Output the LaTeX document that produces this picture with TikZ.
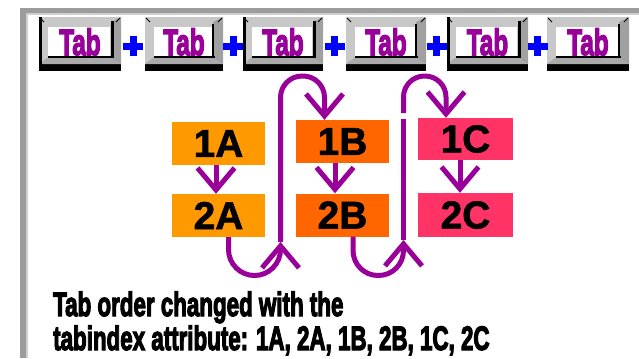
\documentclass[tikz,border=0pt]{standalone}
\usepackage{fontspec}
\setmainfont{Liberation Sans}
\newfontfamily\heavy{Liberation Sans Bold}[FakeBold=4]
\newfontfamily\boxfont{Liberation Sans Bold}[FakeBold=1.5]
\usetikzlibrary{arrows.meta}
\definecolor{purp}{HTML}{990099}
\definecolor{framegray}{HTML}{9C9C9C}
\definecolor{framelight}{HTML}{D0D0D0}
\definecolor{keylight}{HTML}{C8C8C8}
\definecolor{keydark}{HTML}{A0A0A0}
\definecolor{keymid}{HTML}{AAAAAA}
\definecolor{plusblue}{HTML}{0000FF}
\definecolor{colA}{HTML}{FF9900}
\definecolor{colB}{HTML}{FF6600}
\definecolor{colC}{HTML}{FF3366}
\tikzset{
  bx/.style={inner sep=0pt, minimum width=93bp, minimum height=43bp,
    font=\boxfont\fontsize{39}{39}\selectfont, text=black},
  tabtxt/.style={inner sep=0pt, text=purp, font=\heavy\fontsize{37}{37}\selectfont},
  flow/.style={purp, line width=5bp, -{Straight Barb[length=22bp, width=37bp]}},
  plainline/.style={purp, line width=5bp},
  plussign/.style={plusblue, line width=7bp},
  caption/.style={inner sep=0pt, anchor=base west, text=black,
    font=\heavy\fontsize{34}{34}\selectfont}
}
% key body: #1 name, #2 left, #3 right, #4 1 = pressed look
\newcommand\drawtabkey[4]{%
  \fill[keylight] (#2,17) rectangle (#3,65);
  \fill[black] (#2,64) rectangle (#3,71);
  \fill[keydark] (#3-10,22) -- (#3,17) -- (#3,64) -- (#3-10,58) -- cycle;
  \fill[keymid] (#2+8,58) -- (#3-10,58) -- (#3,64) -- (#2,64) -- cycle;
  \fill[white] (#2+9,27) rectangle (#3-11,56);
  \fill[black] (#2+9,56) rectangle (#3-8,58);
  \ifnum#4=1
    \fill[black] (#2,17) rectangle (#2+3,71);
    \fill[black] (#3-10,21) rectangle (#3-7,58);
  \else
    \fill[black] (#3-11,24) rectangle (#3-9,58);
  \fi
  \draw[black, line width=0.8bp] (#2+1,18) -- (#2+5,22) (#3-1,18) -- (#3-5,22);
  \node[tabtxt] (#1) at ({(#2+#3)/2},42) {\scalebox{0.66}[1]{Tab}};
}
\begin{document}
\begin{tikzpicture}[x=1bp,y=-1bp]
\useasboundingbox (0,0) rectangle (639,358);
\fill[white] (0,0) rectangle (639,358);
% frame
\fill[framegray] (20,8) rectangle (639,13);
\fill[framegray] (20,8) rectangle (26,358);
\fill[framelight] (26,13) rectangle (28,358);
\fill[framelight] (26,13) rectangle (639,14.5);
% tab keys
\drawtabkey{k1}{39}{121}{1}
\drawtabkey{k2}{145}{223}{0}
\drawtabkey{k3}{243}{323}{1}
\drawtabkey{k4}{346}{426}{0}
\drawtabkey{k5}{447}{528}{1}
\drawtabkey{k6}{547}{629}{0}
% plus signs
\foreach \px in {133,233,334.5,436.5,537.5}{
  \draw[plussign] (\px-10,46) -- (\px+10,46) (\px,36) -- (\px,56);
}
% boxes
\node[bx, fill=colA] (a1) at (218.5,143.5) {1A};
\node[bx, fill=colA] (a2) at (218.5,215.5) {2A};
\node[bx, fill=colB] (b1) at (342.5,141.5) {1B};
\node[bx, fill=colB] (b2) at (342.5,215) {2B};
\node[bx, fill=colC, minimum width=95bp, minimum height=42bp] (c1) at (465.5,139) {1C};
\node[bx, fill=colC, minimum width=95bp, minimum height=44bp] (c2) at (465.5,215) {2C};
% short arrows
\draw[flow] ([xshift=-2.5bp]a1.south) -- ([xshift=-2.5bp]a2.north);
\draw[flow] ([xshift=-7.5bp]b1.south) -- ([xshift=-7.5bp]b2.north);
\draw[flow] ([xshift=-5.5bp]c1.south) -- ([xshift=-5.5bp]c2.north);
% loop 1
\coordinate (t1) at (280.5,242);
\draw[flow, rounded corners=26bp] ([xshift=10bp]a2.south) |- (280.5,275.5) -- (t1);
\draw[flow, rounded corners=21.5bp] (t1) -- (280.5,76) -- (324.5,76) -- (324.5,0 |- b1.north);
% loop 2
\coordinate (t2) at (403.5,240);
\coordinate (g1) at (403.5,118.5);
\coordinate (g2) at (403.5,113);
\draw[flow, rounded corners=25bp] ([xshift=10.5bp]b2.south) |- (403.5,275.5) -- (t2);
\draw[plainline] (t2) -- (g1);
\draw[flow, rounded corners=21bp] (g2) -- (403.5,76) -- (446,76) -- (446,0 |- c1.north);
% caption
\node[caption] (cap1) at (53,316) {\scalebox{0.66}[1]{Tab order changed with the}};
\node[caption] (cap2) at (53,350) {\scalebox{0.66}[1]{tabindex attribute:\hspace{0.35em}1A, 2A, 1B, 2B, 1C, 2C}};
\end{tikzpicture}
\end{document}
